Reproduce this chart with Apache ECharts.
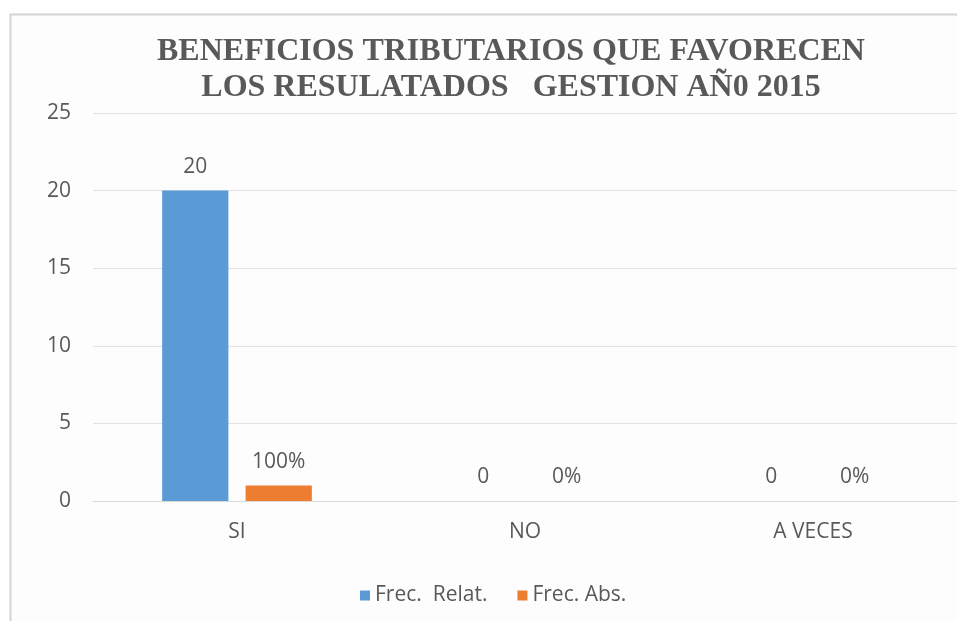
<!DOCTYPE html>
<html>
<head>
<meta charset="utf-8">
<script src="https://cdn.jsdelivr.net/npm/echarts@6/dist/echarts.min.js"></script>
<style>html,body{margin:0;padding:0;background:#fff;}#c{width:957px;height:621px;}</style>
</head>
<body>
<div id="c"></div>
<script>
var categories = ['SI', 'NO', 'A VECES'];
var frecRelat = [20, 0, 0];
var frecAbs = [1, 0, 0];
var frecAbsLabels = ['100%', '0%', '0%'];
var yTicks = [0, 5, 10, 15, 20, 25];

var chart = echarts.init(document.getElementById('c'));
var FS = 21;
var labelFont = { color: '#595959', fontSize: FS, fontFamily: 'Open Sans' };
chart.setOption({
  backgroundColor: '#ffffff',
  animation: false,
  graphic: [{
    type: 'rect', z: -10, silent: true,
    shape: { x: 10.5, y: 14.5, width: 960, height: 620 },
    style: { fill: '#fdfdfd', stroke: '#d4d4d4', lineWidth: 2 }
  }],
  title: {
    text: 'BENEFICIOS TRIBUTARIOS QUE FAVORECEN\nLOS RESULATADOS   GESTION AÑ0 2015',
    left: 506, top: 29, textAlign: 'center',
    textStyle: { fontFamily: 'Liberation Serif', fontWeight: 'bold', fontSize: 32, lineHeight: 36, color: '#595959' }
  },
  legend: {
    top: 580, left: 355,
    itemWidth: 10, itemHeight: 10, itemGap: 30,
    icon: 'rect',
    textStyle: { color: '#595959', fontSize: FS, fontFamily: 'Open Sans' },
    data: ['Frec.  Relat.', 'Frec. Abs.']
  },
  grid: { left: 93, right: 0, top: 113, bottom: 120 },
  xAxis: {
    type: 'category', data: categories,
    axisTick: { show: false },
    axisLine: { lineStyle: { color: '#d9d9d9' } },
    axisLabel: Object.assign({ margin: 21 }, labelFont)
  },
  yAxis: {
    type: 'value', min: yTicks[0], max: yTicks[yTicks.length - 1], interval: 5,
    axisLine: { show: false }, axisTick: { show: false },
    splitLine: { lineStyle: { color: '#e3e3e3' } },
    axisLabel: Object.assign({ margin: 22 }, labelFont)
  },
  series: [{
    name: 'Frec.  Relat.', type: 'bar', data: frecRelat,
    barWidth: '23%', barGap: '26%',
    itemStyle: { color: '#5B9BD5' },
    label: Object.assign({ show: true, position: 'top', distance: 13 }, labelFont)
  }, {
    name: 'Frec. Abs.', type: 'bar', data: frecAbs,
    barWidth: '23%',
    itemStyle: { color: '#ED7D31' },
    label: Object.assign({ show: true, position: 'top', distance: 13,
      formatter: function (p) { return frecAbsLabels[p.dataIndex]; } }, labelFont)
  }]
});
</script>
</body>
</html>
